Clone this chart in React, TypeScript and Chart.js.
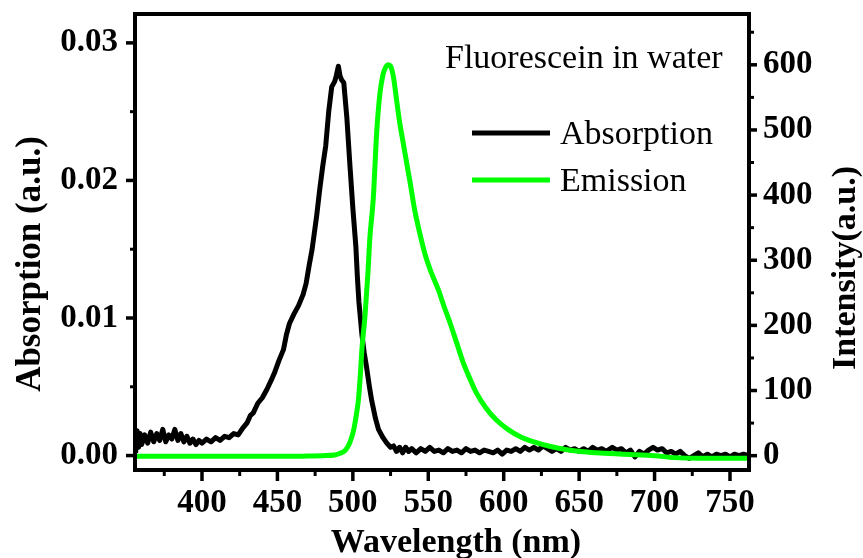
import React, { useEffect, useRef } from 'react';
import { Chart, registerables } from 'chart.js';

Chart.register(...registerables);

// Absorption spectrum (left axis, a.u.)
const ABS_WL = [
  356, 357, 358, 359, 360, 362, 364, 366, 368, 370, 372, 374, 376, 378, 380, 382, 384, 386, 388, 390,
  392, 394, 396, 398, 400, 403, 406, 409, 412, 415, 418, 421, 424, 427, 430, 432, 434, 437, 440, 443,
  446, 448, 451, 454, 456, 458, 461, 464, 467, 469, 471, 473, 476, 478, 480, 482, 484, 486, 488, 489,
  490.4, 491.5, 492.6, 494, 496, 498, 500, 502, 503, 504, 506, 507.5, 509, 511, 512.5, 515, 517, 520,
  522.5, 525, 527, 529, 531, 533, 535, 537, 539, 542, 545, 548, 551, 554, 557, 560, 563, 566, 569, 572,
  575, 578, 581, 584, 587, 590, 593, 596, 599, 602, 605, 608, 611, 614, 617, 620, 623, 626, 629, 632,
  635, 638, 641, 644, 647, 650, 653, 656, 659, 662, 665, 668, 672, 675, 678, 681, 684, 687, 690, 693,
  696, 699, 702, 705, 708, 711, 714, 717, 720, 723, 726, 729, 732, 735, 738, 741, 744, 747, 750, 753,
  756, 759, 762,
];
const ABS_VAL = [
  0.0002, 0.0018, 0.0006, 0.0016, 0.0008, 0.0015, 0.0009, 0.0017, 0.0010, 0.0016, 0.0011, 0.0019, 0.0010, 0.0015, 0.0012, 0.0019, 0.0011, 0.0016, 0.0010, 0.0014,
  0.0009, 0.0012, 0.0008, 0.0011, 0.0009, 0.0012, 0.0010, 0.0013, 0.0011, 0.0014, 0.0013, 0.0016, 0.0015, 0.0020, 0.0024, 0.0029, 0.0031, 0.0038, 0.0042, 0.0048,
  0.0055, 0.0060, 0.0069, 0.0077, 0.0088, 0.0096, 0.0103, 0.0109, 0.0117, 0.0125, 0.0138, 0.0150, 0.0174, 0.0193, 0.0210, 0.0225, 0.0250, 0.0268, 0.0272, 0.0276,
  0.0283, 0.0276, 0.0273, 0.0271, 0.0246, 0.0212, 0.0180, 0.0152, 0.0130, 0.0112, 0.0088, 0.0075, 0.0065, 0.0050, 0.0040, 0.0027, 0.0019, 0.0013,
  0.0009, 0.0006, 0.0007, 0.0003, 0.0006, 0.0002, 0.0006, 0.0003, 0.0005, 0.0002, 0.0005, 0.0003, 0.0006, 0.0003, 0.0004, 0.0002, 0.0005, 0.0003, 0.0004, 0.0002,
  0.0005, 0.0003, 0.0004, 0.0002, 0.0004, 0.0003, 0.0002, 0.0004, 0.0001, 0.0004, 0.0003, 0.0005, 0.0003, 0.0006, 0.0004, 0.0006, 0.0004, 0.0007, 0.0005, 0.0003,
  0.0005, 0.0003, 0.0006, 0.0004, 0.0005, 0.0003, 0.0005, 0.0003, 0.0006, 0.0004, 0.0005, 0.0003, 0.0006, 0.0004, 0.0005, 0.0002, 0.0004, -0.0001, 0.0003, 0.0001,
  0.0004, 0.0006, 0.0004, 0.0005, 0.0002, 0.0003, 0.0001, 0.0003, 0.0000, -0.0002, 0.0000, 0.0002, -0.0001, 0.0001, -0.0001, 0.0001, 0.0000, 0.0001, -0.0001, 0.0001,
  0.0000, 0.0001, 0.0000,
];

// Emission spectrum (right axis, a.u.)
const EM_WL = [
  356, 380, 400, 420, 440, 460, 470, 480, 488, 492, 495, 498, 500.5, 502, 503.7, 505, 506, 508, 510, 511.3,
  513.5, 515.8, 518, 520, 521.5, 523.5, 525, 527, 529, 531, 533.4, 536, 538, 541, 544.5, 548, 552, 556.8,
  560, 564.4, 569, 573.3, 578, 582, 588, 595, 603, 611, 620, 631, 642, 653, 664, 680, 700, 713, 730, 745, 762,
];
const EM_VAL = [
  -1, -1, -1, -1, -1, -1, -0.5, 0, 1, 4, 8, 20, 39, 58, 86, 125, 163, 213, 280, 335,
  393, 496, 557, 585, 595, 600, 598, 580, 546, 512, 480, 445, 419, 377, 340, 308, 281, 254,
  232, 204, 172, 142, 116, 96, 74, 55, 40, 29, 21, 14, 9, 6, 4, 2, 0, -3, -4, -4, -4,
];

const X_TICKS = [400, 450, 500, 550, 600, 650, 700, 750];
const X_MINOR = [375, 425, 475, 525, 575, 625, 675, 725];
const Y_ABS_TICKS = [0, 0.01, 0.02, 0.03];
const Y_ABS_MINOR = [0.005, 0.015, 0.025];
const Y_EM_TICKS = [0, 100, 200, 300, 400, 500, 600];
const Y_EM_MINOR = [50, 150, 250, 350, 450, 550, 650];

const X_TITLE = 'Wavelength (nm)';
const Y_ABS_TITLE = 'Absorption (a.u.)';
const Y_EM_TITLE = 'Intensity(a.u.)';
const NOTE = 'Fluorescein in water';
const LEGEND = ['Absorption', 'Emission'];
const COLORS = ['#000000', '#00ff00'];

const SERIF = '"Liberation Serif", "Times New Roman", serif';
const TICK_FONT = { family: SERIF, size: 33, weight: 'bold' as const };

const decor = {
  id: 'decor',
  afterDraw(chart: any) {
    const { ctx, chartArea: ca, scales } = chart;
    ctx.save();
    ctx.strokeStyle = '#000';
    ctx.fillStyle = '#000';
    ctx.lineCap = 'butt';
    const line = (x1: number, y1: number, x2: number, y2: number, w: number) => {
      ctx.lineWidth = w;
      ctx.beginPath();
      ctx.moveTo(x1, y1);
      ctx.lineTo(x2, y2);
      ctx.stroke();
    };
    // ticks
    X_TICKS.forEach((v) => {
      const p = scales.x.getPixelForValue(v);
      line(p, ca.bottom, p, ca.bottom + 11, 3.5);
    });
    X_MINOR.forEach((v) => {
      const p = scales.x.getPixelForValue(v);
      line(p, ca.bottom, p, ca.bottom + 6, 3);
    });
    Y_ABS_TICKS.forEach((v) => {
      const p = scales.y.getPixelForValue(v);
      line(ca.left, p, ca.left - 9, p, 3.5);
    });
    Y_ABS_MINOR.forEach((v) => {
      const p = scales.y.getPixelForValue(v);
      line(ca.left, p, ca.left - 5, p, 3);
    });
    Y_EM_TICKS.forEach((v) => {
      const p = scales.y2.getPixelForValue(v);
      line(ca.right, p, ca.right + 8, p, 3.5);
    });
    Y_EM_MINOR.forEach((v) => {
      const p = scales.y2.getPixelForValue(v);
      line(ca.right, p, ca.right + 5, p, 3);
    });
    // frame
    ctx.lineWidth = 4;
    ctx.strokeRect(ca.left, ca.top, ca.right - ca.left, ca.bottom - ca.top);

    // axis titles
    ctx.font = `bold 34px ${SERIF}`;
    ctx.textBaseline = 'alphabetic';
    ctx.textAlign = 'center';
    ctx.fillText(X_TITLE, 456, 552);
    ctx.save();
    ctx.translate(40, 264);
    ctx.rotate(-Math.PI / 2);
    ctx.font = `bold 35px ${SERIF}`;
    ctx.fillText(Y_ABS_TITLE, 0, 0);
    ctx.restore();
    ctx.save();
    ctx.translate(855, 268);
    ctx.rotate(-Math.PI / 2);
    ctx.font = `bold 34px ${SERIF}`;
    ctx.fillText(Y_EM_TITLE, 0, 0);
    ctx.restore();

    // note and legend
    ctx.font = `34px ${SERIF}`;
    ctx.textAlign = 'left';
    ctx.fillText(NOTE, 445, 68);
    const rows = [133, 180];
    LEGEND.forEach((t, i) => {
      ctx.strokeStyle = COLORS[i];
      line(472, rows[i], 550, rows[i], 5);
      ctx.fillStyle = '#000';
      ctx.fillText(t, 560, rows[i] + 11);
    });
    ctx.restore();
  },
};

const zeroPad = (s: any) => {
  s.paddingTop = 0;
  s.paddingBottom = 0;
  s.paddingLeft = 0;
  s.paddingRight = 0;
};

export default function App() {
  const ref = useRef<HTMLCanvasElement | null>(null);
  useEffect(() => {
    if (!ref.current) return;
    const chart = new Chart(ref.current, {
      type: 'line',
      data: {
        datasets: [
          {
            label: LEGEND[1],
            data: EM_WL.map((x, i) => ({ x, y: EM_VAL[i] })),
            yAxisID: 'y2',
            borderColor: COLORS[1],
            borderWidth: 5,
            pointRadius: 0,
            cubicInterpolationMode: 'monotone',
            fill: false,
          },
          {
            label: LEGEND[0],
            data: ABS_WL.map((x, i) => ({ x, y: ABS_VAL[i] })),
            yAxisID: 'y',
            borderColor: COLORS[0],
            borderWidth: 5,
            pointRadius: 0,
            tension: 0,
            borderJoinStyle: 'round',
            fill: false,
          },
        ],
      },
      options: {
        animation: false,
        responsive: false,
        layout: { padding: { top: 14, left: 0, right: 0, bottom: 0 } },
        plugins: { legend: { display: false }, tooltip: { enabled: false } },
        scales: {
          x: {
            type: 'linear',
            position: 'bottom',
            min: 355.6,
            max: 762.6,
            grid: { display: false, drawTicks: false },
            border: { display: false },
            ticks: { font: TICK_FONT, color: '#000', padding: 14, maxRotation: 0, autoSkip: false },
            afterBuildTicks: (s: any) => {
              s.ticks = X_TICKS.map((v) => ({ value: v }));
            },
            afterFit: (s: any) => {
              s.height = 88;
              zeroPad(s);
            },
          },
          y: {
            type: 'linear',
            position: 'left',
            min: -0.00105,
            max: 0.0321,
            grid: { display: false, drawTicks: false },
            border: { display: false },
            ticks: {
              font: TICK_FONT,
              color: '#000',
              padding: 17,
              callback: (v: any) => Number(v).toFixed(2),
            },
            afterBuildTicks: (s: any) => {
              s.ticks = Y_ABS_TICKS.map((v) => ({ value: v }));
            },
            afterFit: (s: any) => {
              s.width = 135;
              zeroPad(s);
            },
          },
          y2: {
            type: 'linear',
            position: 'right',
            min: -22,
            max: 678,
            grid: { display: false, drawTicks: false },
            border: { display: false },
            ticks: { font: TICK_FONT, color: '#000', padding: 14, callback: (v: any) => String(v) },
            afterBuildTicks: (s: any) => {
              s.ticks = Y_EM_TICKS.map((v) => ({ value: v }));
            },
            afterFit: (s: any) => {
              s.width = 114;
              zeroPad(s);
            },
          },
        },
      } as any,
      plugins: [decor],
    });
    return () => chart.destroy();
  }, []);
  return (
    <div style={{ position: 'absolute', left: 0, top: 0, width: 863, height: 558, background: '#fff' }}>
      <canvas ref={ref} width={863} height={558} />
    </div>
  );
}
